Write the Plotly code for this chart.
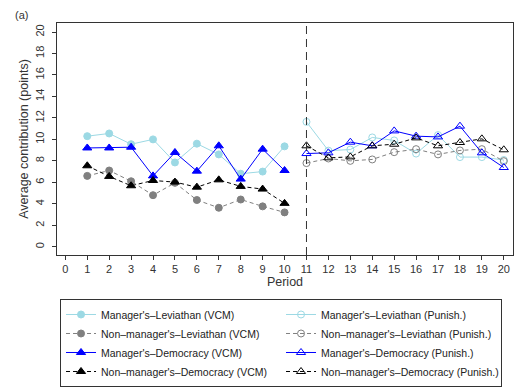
import plotly.graph_objects as go

periods_vcm = list(range(1, 11))
periods_pun = list(range(11, 21))

mgr_lev_vcm = [10.3, 10.55, 9.55, 10.0, 7.85, 9.6, 8.6, 6.8, 7.0, 9.35]
nonmgr_lev_vcm = [6.6, 7.1, 6.1, 4.8, 5.95, 4.35, 3.63, 4.4, 3.76, 3.2]
mgr_dem_vcm = [9.2, 9.2, 9.27, 6.6, 8.78, 7.04, 9.4, 6.3, 9.09, 7.1]
nonmgr_dem_vcm = [7.54, 6.55, 5.68, 6.17, 6.02, 5.55, 6.23, 5.62, 5.37, 4.04]

mgr_lev_pun = [11.63, 8.95, 9.05, 10.18, 9.9, 8.68, 10.4, 8.35, 8.35, 8.08]
nonmgr_lev_pun = [7.79, 8.22, 8.0, 8.13, 8.81, 9.09, 8.6, 8.97, 9.09, 7.97]
mgr_dem_pun = [8.68, 8.75, 9.74, 9.4, 10.79, 10.3, 10.23, 11.23, 8.75, 7.38]
nonmgr_dem_pun = [9.4, 8.28, 8.37, 9.4, 9.55, 10.14, 9.4, 9.71, 10.05, 9.03]

x_ticks = list(range(0, 21))
y_ticks = list(range(0, 21, 2))

LB = "#9CD9E4"
GR = "#808080"
BL = "#0000FF"
BK = "#000000"
DASH = "4px,3px"

series = [
    ("Manager's\u2013Leviathan (VCM)", periods_vcm, mgr_lev_vcm, LB, "solid", "circle", 7),
    ("Manager's\u2013Leviathan (Punish.)", periods_pun, mgr_lev_pun, LB, "solid", "circle-open", 7),
    ("Non\u2013manager's\u2013Leviathan (VCM)", periods_vcm, nonmgr_lev_vcm, GR, DASH, "circle", 7),
    ("Non\u2013manager's\u2013Leviathan (Punish.)", periods_pun, nonmgr_lev_pun, GR, DASH, "circle-open", 7),
    ("Manager's\u2013Democracy (VCM)", periods_vcm, mgr_dem_vcm, BL, "solid", "triangle-up", 8),
    ("Manager's\u2013Democracy (Punish.)", periods_pun, mgr_dem_pun, BL, "solid", "triangle-up-open", 8),
    ("Non\u2013manager's\u2013Democracy (VCM)", periods_vcm, nonmgr_dem_vcm, BK, DASH, "triangle-up", 8),
    ("Non\u2013manager's\u2013Democracy (Punish.)", periods_pun, nonmgr_dem_pun, BK, DASH, "triangle-up-open", 8),
]

fig = go.Figure()
for name, xs, ys, col, dash, sym, sz in series:
    fig.add_trace(go.Scatter(
        x=xs, y=ys, name=name, mode="lines+markers",
        line=dict(color=col, width=1, dash=dash),
        marker=dict(symbol=sym, size=sz, color=col, line=dict(color=col, width=1)),
    ))

fig.add_shape(type="line", x0=11, x1=11, y0=0, y1=1, xref="x", yref="paper",
              line=dict(color="#333333", width=1, dash="8px,5px"))

fig.add_annotation(text="(a)", xref="paper", yref="paper", x=-0.0943, y=1.0647,
                   xanchor="left", yanchor="top", showarrow=False, borderpad=0,
                   font=dict(size=11, color="#333333"))

axis_font = dict(family="Liberation Sans, Arial, sans-serif", size=11, color="#333333")

fig.update_layout(
    width=514, height=379,
    margin=dict(l=49, r=9, t=15, b=132, autoexpand=False),
    paper_bgcolor="white", plot_bgcolor="white",
    font=axis_font,
    showlegend=True,
    legend=dict(
        orientation="h", xref="container", yref="container",
        x=0.1012, y=0.2322, xanchor="left", yanchor="top",
        bordercolor="#333333", borderwidth=1, entrywidth=175,
        font=dict(family="Liberation Sans, Arial, sans-serif", size=10.5, color="#222222"),
        tracegroupgap=0, itemwidth=30,
    ),
    xaxis=dict(
        range=[-0.38, 20.42], tickmode="array", tickvals=x_ticks,
        ticktext=[str(t) for t in x_ticks], automargin=False,
        showline=True, linecolor="#333333", linewidth=1, mirror=True,
        ticks="outside", ticklen=4, tickcolor="#333333", showgrid=False, zeroline=False,
        title=dict(text="Period", font=dict(size=12.5), standoff=2),
    ),
    yaxis=dict(
        range=[-0.77, 20.84], tickmode="array", tickvals=y_ticks,
        ticktext=[str(t) for t in y_ticks], tickangle=-90, automargin=False,
        ticklabelstandoff=4,
        showline=True, linecolor="#333333", linewidth=1, mirror=True,
        ticks="outside", ticklen=4, tickcolor="#333333", showgrid=False, zeroline=False,
        title=dict(text="Average contribution (points)", font=dict(size=12.5), standoff=2),
    ),
)

fig.write_html("out.html")
